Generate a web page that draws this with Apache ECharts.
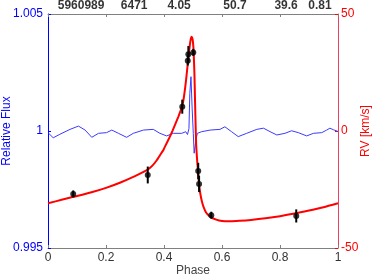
<!DOCTYPE html>
<html><head><meta charset="utf-8">
<script src="https://cdn.jsdelivr.net/npm/echarts@6/dist/echarts.min.js"></script>
<style>html,body{margin:0;padding:0;background:#fff}#c{width:374px;height:279px}</style>
</head><body><div id="c"></div>
<script>
// Phase ticks
const phaseTicks = [0, 0.2, 0.4, 0.6, 0.8, 1];
// Top axis labels (text and phase position)
const topLabels = ['5960989', '6471', '4.05', '50.7', '39.6', '0.81'];
const topLabelPhase = [0.114, 0.297, 0.452, 0.645, 0.821, 0.938];
// Relative flux light curve (phase, flux)
const fluxPhase = [0, 0.018, 0.041, 0.076, 0.105, 0.128, 0.151, 0.174, 0.202, 0.220, 0.243, 0.271, 0.294, 0.329, 0.363, 0.386, 0.409, 0.432, 0.461, 0.475, 0.481, 0.486, 0.489, 0.493, 0.497, 0.501, 0.504, 0.510, 0.515, 0.530, 0.559, 0.593, 0.610, 0.633, 0.656, 0.685, 0.720, 0.743, 0.766, 0.789, 0.817, 0.840, 0.863, 0.892, 0.915, 0.944, 0.961, 0.972, 0.985, 1];
const fluxValue = [0.99993, 0.99971, 0.99986, 1.00007, 1.00021, 1.00004, 0.99973, 0.9999, 0.99993, 1.00004, 0.9999, 0.99973, 0.9999, 1.00004, 1.00007, 0.9999, 0.99979, 0.9999, 0.9999, 0.99997, 0.99985, 1.00010, 1.00160, 1.00232, 1.00098, 0.9999, 0.99905, 0.99962, 0.9999, 0.99997, 1.00004, 1.00007, 1.00018, 0.99997, 0.99976, 0.9999, 1.00007, 1.00012, 0.99997, 0.99983, 0.9999, 1.00001, 0.99993, 0.99979, 0.9999, 0.99993, 1.00004, 1.00012, 1.00005, 0.99998];
// RV model curve (phase, km/s)
const rvPhase = [0, 0.05, 0.087, 0.1, 0.15, 0.2, 0.25, 0.3, 0.331, 0.345, 0.36, 0.375, 0.39, 0.398, 0.41, 0.42, 0.43, 0.44, 0.45, 0.457, 0.463, 0.468, 0.473, 0.478, 0.482, 0.486, 0.490, 0.493, 0.4954, 0.498, 0.500, 0.502, 0.505, 0.507, 0.509, 0.511, 0.514, 0.517, 0.520, 0.523, 0.527, 0.531, 0.536, 0.545, 0.559, 0.58, 0.6, 0.63, 0.66, 0.7, 0.75, 0.8, 0.85, 0.9, 0.95, 1];
const rvModel = [-30.9, -29.3, -28.1, -27.8, -26.2, -24.3, -22.0, -19.3, -17.4, -16.4, -14.8, -12.5, -9.6, -8.1, -5.0, -2.5, 0.3, 3.3, 6.3, 8.6, 10.8, 14.0, 18.5, 24.0, 28.8, 33.5, 37.6, 39.6, 40.3, 39.5, 37.8, 34.5, 24.0, 13.0, 2.6, -6.0, -12.0, -17.0, -21.5, -25.0, -28.0, -30.2, -32.3, -34.8, -36.6, -37.9, -38.5, -38.6, -38.4, -38.0, -37.3, -36.4, -35.3, -34.0, -32.6, -30.9];
// RV measurements (phase, km/s, error)
const obsPhase = [0.087, 0.344, 0.463, 0.482, 0.484, 0.501, 0.518, 0.521, 0.563, 0.856];
const obsRV = [-26.9, -18.8, 10.4, 30.0, 32.8, 33.6, -17.1, -22.6, -36.0, -36.3];
const obsErr = [1.5, 3.6, 3.0, 2.0, 3.5, 1.5, 3.5, 3.5, 1.5, 2.8];

const chart = echarts.init(document.getElementById('c'), null, {renderer: 'canvas'});
const FONT = 'Liberation Sans';
chart.setOption({
  animation: false,
  grid: {left: 48, right: 36, top: 14, bottom: 31, containLabel: false, outerBoundsMode: 'none'},
  xAxis: [{
    type: 'value', position: 'bottom', min: 0, max: 1, interval: 0.2,
    axisLine: {onZero: false, lineStyle: {color: '#808080', width: 1}},
    axisTick: {inside: true, length: 3, lineStyle: {color: '#808080'}},
    splitLine: {show: false},
    axisLabel: {color: '#333', fontSize: 12, fontFamily: FONT, margin: 4,
      formatter: v => String(+v.toFixed(1))},
    name: 'Phase', nameLocation: 'middle', nameGap: 17, nameMoveOverlap: false,
    nameTextStyle: {color: '#444', fontSize: 12, fontFamily: FONT}
  }, {
    type: 'value', position: 'top', min: 0, max: 1, interval: 0.2,
    axisLine: {onZero: false, lineStyle: {color: '#808080', width: 1}},
    axisTick: {inside: true, length: 3, lineStyle: {color: '#808080'}},
    splitLine: {show: false},
    axisLabel: {show: false}
  }],
  yAxis: [{
    type: 'value', position: 'left', min: 0.995, max: 1.005, interval: 0.005,
    axisLine: {show: true, onZero: false, lineStyle: {color: '#0000ff', width: 1}},
    axisTick: {show: true, inside: true, length: 3, lineStyle: {color: '#0000ff'}},
    splitLine: {show: false},
    axisLabel: {color: '#0000ff', fontSize: 12, fontFamily: FONT, margin: 5,
      formatter: v => String(+v.toFixed(3))},
    name: 'Relative Flux', nameLocation: 'middle', nameGap: 35, nameRotate: 90, nameMoveOverlap: false,
    nameTextStyle: {color: '#0000ff', fontSize: 12, fontFamily: FONT}
  }, {
    type: 'value', position: 'right', min: -50, max: 50, interval: 50,
    axisLine: {show: true, onZero: false, lineStyle: {color: '#e8405e', width: 1}},
    axisTick: {show: true, inside: true, length: 3, lineStyle: {color: '#ff0000'}},
    splitLine: {show: false},
    axisLabel: {color: '#ff0000', fontSize: 12, fontFamily: FONT, margin: 3},
    name: 'RV [km/s]', nameLocation: 'middle', nameGap: 22, nameRotate: 90, nameMoveOverlap: false,
    nameTextStyle: {color: '#ff0000', fontSize: 12, fontFamily: FONT}
  }],
  series: [{
    type: 'line', xAxisIndex: 0, yAxisIndex: 0,
    data: fluxPhase.map((p, i) => [p, fluxValue[i]]),
    showSymbol: false, smooth: false,
    lineStyle: {color: '#3a3aff', width: 1}, z: 2
  }, {
    type: 'line', xAxisIndex: 0, yAxisIndex: 1,
    data: rvPhase.map((p, i) => [p, rvModel[i]]),
    showSymbol: false, smooth: 0.2,
    lineStyle: {color: '#ff0000', width: 2}, z: 3
  }, {
    type: 'custom', xAxisIndex: 0, yAxisIndex: 1,
    data: obsPhase.map((p, i) => [p, obsRV[i] - obsErr[i], obsRV[i] + obsErr[i]]),
    renderItem: (params, api) => {
      const a = api.coord([api.value(0), api.value(1)]);
      const b = api.coord([api.value(0), api.value(2)]);
      return {type: 'line', shape: {x1: a[0], y1: a[1], x2: b[0], y2: b[1]},
        style: {stroke: '#000', lineWidth: 2}};
    }, z: 4
  }, {
    type: 'scatter', xAxisIndex: 0, yAxisIndex: 1,
    data: obsPhase.map((p, i) => [p, obsRV[i]]),
    symbol: 'circle', symbolSize: 6,
    itemStyle: {color: '#000'}, z: 5
  }, {
    type: 'scatter', xAxisIndex: 1, yAxisIndex: 1,
    data: topLabelPhase.map((p, i) => ({name: topLabels[i], value: [p, 50]})),
    symbolSize: 0, silent: true,
    label: {show: true, position: 'top', distance: 2, formatter: '{b}',
      color: '#000', fontSize: 12, fontWeight: 'bold', fontFamily: FONT}
  }]
});
</script></body></html>
